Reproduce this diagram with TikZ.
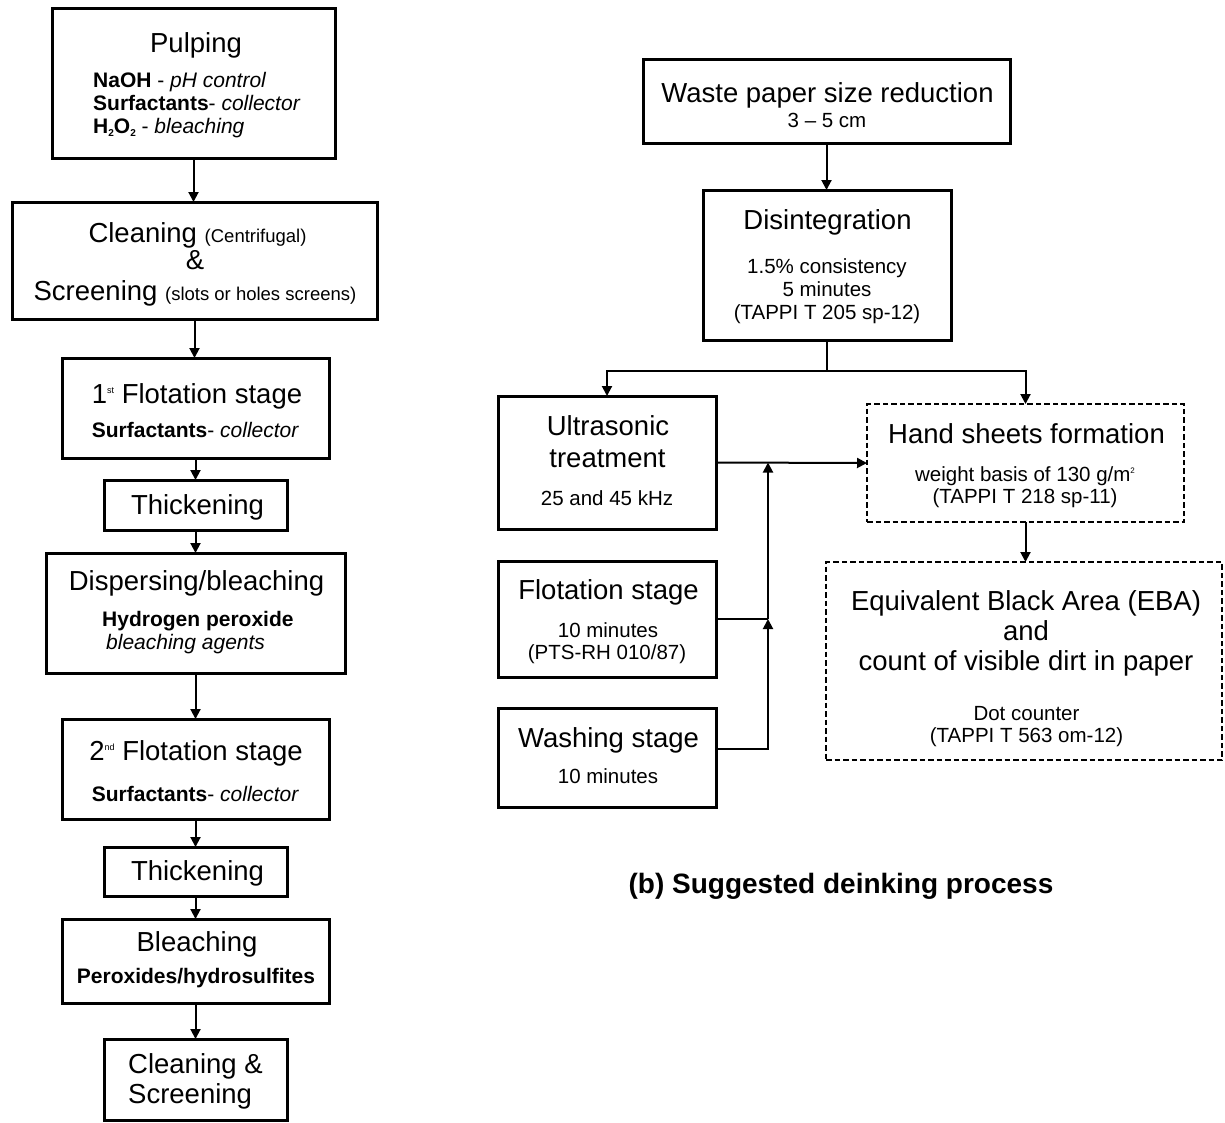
\documentclass[tikz,border=0pt]{standalone}
\usepackage{fontspec}
\setmainfont{Liberation Sans}
\usetikzlibrary{arrows.meta}
\newcommand\szM{\fontsize{27.5}{32}\selectfont}
\newcommand\szS{\fontsize{20.5}{24}\selectfont}
\newcommand\szB{\fontsize{21}{24}\selectfont}
\newcommand\szP{\fontsize{18.5}{22}\selectfont}
\newcommand\supx[1]{\raisebox{10pt}{\fontsize{9}{9}\selectfont #1}}
\newcommand\supm[1]{\raisebox{8pt}{\fontsize{8}{8}\selectfont #1}}
\newcommand\subx[1]{\raisebox{-3pt}{\fontsize{10}{10}\selectfont #1}}
\begin{document}
\begin{tikzpicture}[x=1pt,y=-1pt,
  box/.style={draw, rectangle, line width=3pt, inner sep=0pt, outer sep=0pt},
  dbox/.style={box, line width=2.8pt, dash pattern=on 5.5pt off 3pt},
  arr/.style={line width=2pt, -{Triangle[length=10pt,width=10pt]}},
  ln/.style={line width=2pt},
  t/.style={anchor=base, inner sep=0pt},
  tl/.style={anchor=base west, inner sep=0pt}]
\useasboundingbox (0,0) rectangle (1225,1122);
% ---- left column boxes
\node[box, minimum width=283pt, minimum height=150pt] (pulp) at (193.5,83) {};
\node[box, minimum width=365pt, minimum height=117pt] (clean) at (194.5,260.5) {};
\node[box, minimum width=267pt, minimum height=100pt] (flot1) at (195.5,408) {};
\node[box, minimum width=183pt, minimum height=50pt] (thick1) at (195.5,505) {};
\node[box, minimum width=299pt, minimum height=120pt] (disp) at (195.5,613) {};
\node[box, minimum width=267pt, minimum height=100pt] (flot2) at (195.5,769) {};
\node[box, minimum width=183pt, minimum height=49pt] (thick2) at (195.5,871.5) {};
\node[box, minimum width=267pt, minimum height=84pt] (bleach) at (195.5,961) {};
\node[box, minimum width=183pt, minimum height=81pt] (cs) at (195.5,1079.5) {};
% ---- right boxes
\node[box, minimum width=367pt, minimum height=84pt] (waste) at (826.5,101) {};
\node[box, minimum width=248pt, minimum height=150pt] (disint) at (827,265) {};
\node[box, minimum width=218pt, minimum height=133pt] (us) at (607,462.5) {};
\node[box, minimum width=218pt, minimum height=116pt] (fs) at (607,619) {};
\node[box, minimum width=218pt, minimum height=99pt] (ws) at (607,757.5) {};
\node[dbox, minimum width=317pt, minimum height=118pt] (hs) at (1025.5,463) {};
\node[dbox, minimum width=396pt, minimum height=198pt] (eba) at (1024,661) {};
% ---- left texts
\node[t] (pulpT) at (196,52) {\szM Pulping};
\node[tl] (pulpA) at (93,87) {\szB\textbf{NaOH} - \textit{pH control}};
\node[tl] (pulpB) at (93,110) {\szB\textbf{Surfactants}- \textit{collector}};
\node[tl] (pulpC) at (93,133) {\szB\textbf{H\subx{2}O\subx{2}} - \textit{bleaching}};
\node[t] (cleanA) at (197.5,242) {\szM Cleaning {\szP(Centrifugal)}};
\node[t] (cleanB) at (195,269) {\szM\&};
\node[t] (cleanC) at (195,300) {\szM Screening {\szP(slots or holes screens)}};
\node[t] (flot1A) at (197,403) {\szM 1\supx{st} Flotation stage};
\node[t] (flot1B) at (195.5,437) {\szB\textbf{Surfactants}- \textit{collector}};
\node[t] (thick1A) at (197.5,514) {\szM Thickening};
\node[t] (dispA) at (196.5,590) {\szM Dispersing/bleaching};
\node[tl] (dispB) at (102,626) {\szB\textbf{Hydrogen peroxide}};
\node[tl] (dispC) at (106,649) {\szB\textit{bleaching agents}};
\node[t] (flot2A) at (196,760) {\szM 2\supx{nd} Flotation stage};
\node[t] (flot2B) at (195.5,801) {\szB\textbf{Surfactants}- \textit{collector}};
\node[t] (thick2A) at (197.5,880) {\szM Thickening};
\node[t] (bleachA) at (197,951) {\szM Bleaching};
\node[t] (bleachB) at (196,983) {\szB\textbf{Peroxides/hydrosulfites}};
\node[tl] (csA) at (128,1073) {\szM Cleaning \&};
\node[tl] (csB) at (128,1103) {\szM Screening};
% ---- right texts
\node[t] (wasteA) at (827.5,102) {\szM Waste paper size reduction};
\node[t] (wasteB) at (827,127) {\szS 3 – 5 cm};
\node[t] (disA) at (827.5,229) {\szM Disintegration};
\node[t] (disB) at (827,273) {\szS 1.5\% consistency};
\node[t] (disC) at (827,296) {\szS 5 minutes};
\node[t] (disD) at (827,319) {\szS (TAPPI T 205 sp-12)};
\node[t] (usA) at (608,435) {\szM Ultrasonic};
\node[t] (usB) at (607.5,467) {\szM treatment};
\node[t] (usC) at (607,505) {\szS 25 and 45 kHz};
\node[t] (fsA) at (608.5,599) {\szM Flotation stage};
\node[t] (fsB) at (608,637) {\szS 10 minutes};
\node[t] (fsC) at (607,659) {\szS (PTS-RH 010/87)};
\node[t] (wsA) at (608.5,747) {\szM Washing stage};
\node[t] (wsB) at (608,783) {\szS 10 minutes};
\node[t] (hsA) at (1026.5,443) {\szM Hand sheets formation};
\node[t] (hsB) at (1025,481) {\szS weight basis of 130 g/m\supm{2}};
\node[t] (hsC) at (1025,503) {\szS (TAPPI T 218 sp-11)};
\node[t] (ebaA) at (1026,610) {\szM Equivalent Black Area (EBA)};
\node[t] (ebaB) at (1026,640) {\szM and};
\node[t] (ebaC) at (1026,670) {\szM count of visible dirt in paper};
\node[t] (ebaD) at (1026.5,720) {\szS Dot counter};
\node[t] (ebaE) at (1026.5,742) {\szS (TAPPI T 563 om-12)};
\node[t] (cap) at (841,893) {\fontsize{28}{32}\selectfont\bfseries (b) Suggested deinking process};
% ---- left connectors
\draw[arr] (pulp.south) -- (pulp.south |- clean.north);
\draw[arr] (clean.south) -- (clean.south |- flot1.north);
\draw[arr] (flot1.south) -- (flot1.south |- thick1.north);
\draw[arr] (thick1.south) -- (thick1.south |- disp.north);
\draw[arr] (disp.south) -- (disp.south |- flot2.north);
\draw[arr] (flot2.south) -- (flot2.south |- thick2.north);
\draw[arr] (thick2.south) -- (thick2.south |- bleach.north);
\draw[arr] (bleach.south) -- (bleach.south |- cs.north);
% ---- right connectors
\coordinate (split) at (827,371);
\coordinate (jx) at (768,0);
\draw[arr] (waste.south) -- (waste.south |- disint.north);
\draw[ln] (disint.south) -- (disint.south |- split);
\draw[arr] (disint.south |- split) -| (us.north);
\draw[arr] (disint.south |- split) -| (hs.north);
\draw[arr] (us.east) -- (hs.west);
\draw[ln] (fs.east) -- (fs.east -| jx);
\draw[arr] ([yshift=8.5pt]ws.east) -| (fs.east -| jx);
\draw[arr] (fs.east -| jx) -- (us.east -| jx);
\draw[arr] (hs.south) -- (hs.south |- eba.north);
\end{tikzpicture}
\end{document}
